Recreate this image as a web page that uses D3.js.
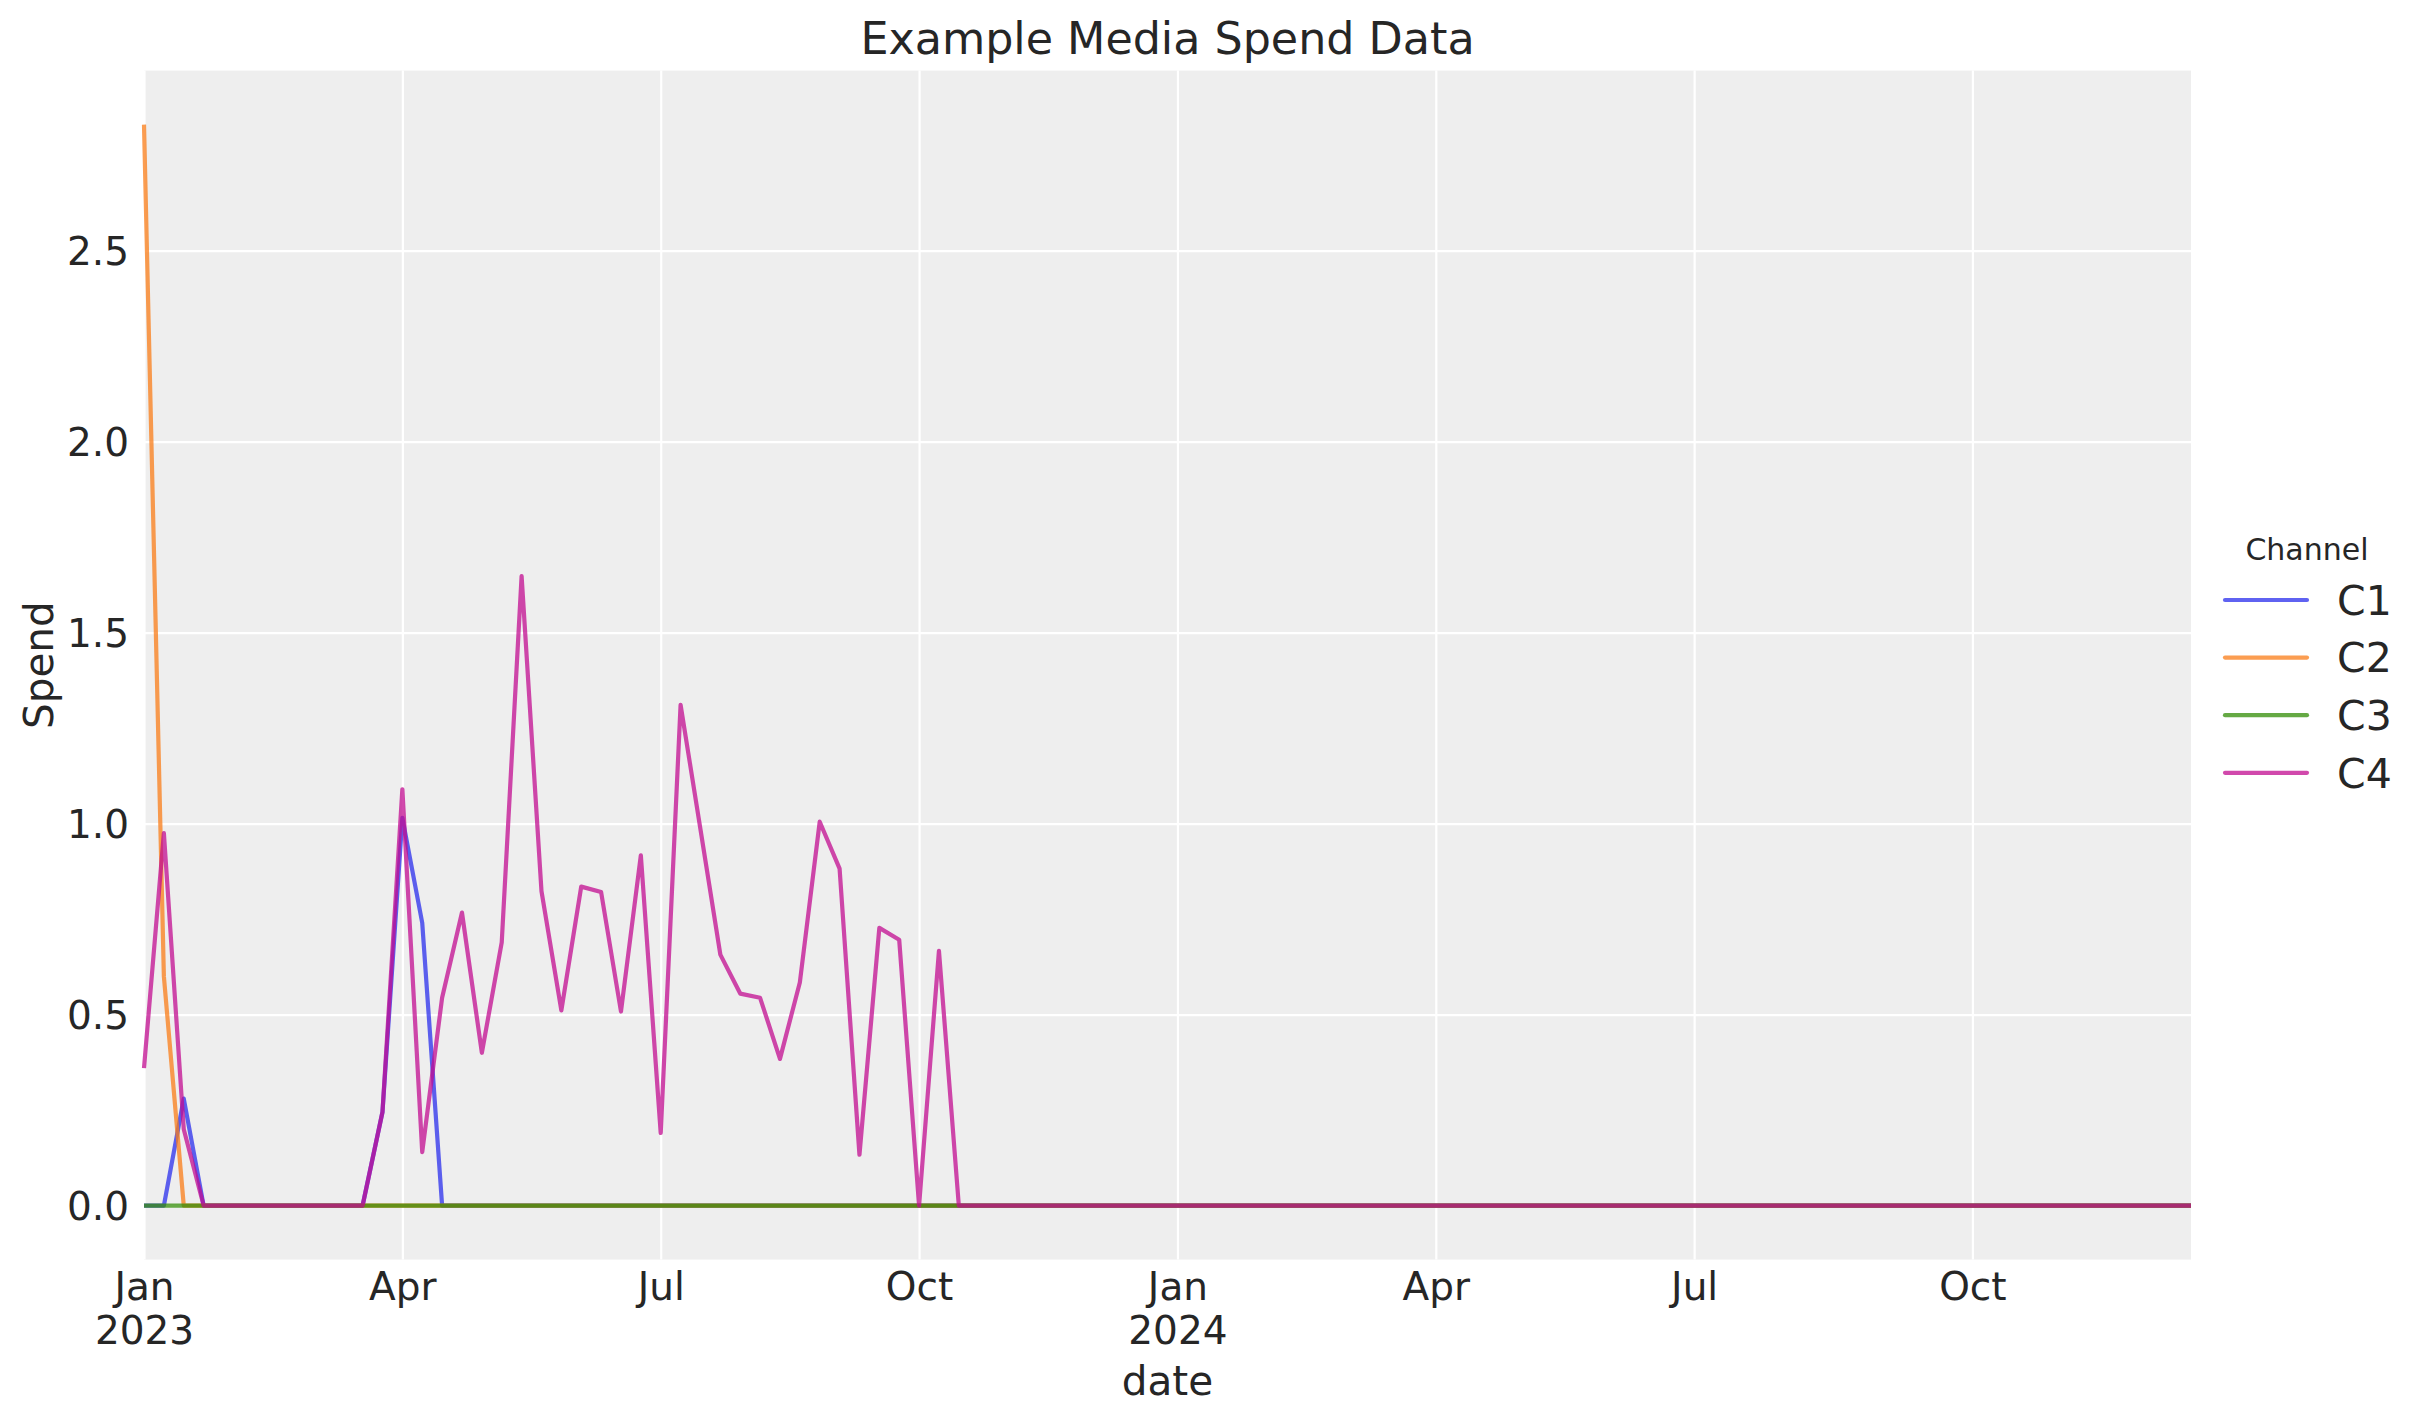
<!DOCTYPE html>
<html>
<head>
<meta charset="utf-8">
<script src="https://cdn.jsdelivr.net/npm/d3@7"></script>
<style>
  body { margin: 0; background: #ffffff; }
  text { font-family: "DejaVu Sans", sans-serif; fill: #262626; }
</style>
</head>
<body>
<script>
// weekly spend per channel, one row per quarter (13 weeks)
var channels = ["C1", "C2", "C3", "C4"];
var colors = ["#2a2eec", "#fa7c17", "#328c06", "#c10c90"];

var c1 = [
  0, 0, 0.28, 0, 0, 0, 0, 0, 0, 0, 0, 0, 0.245,
  1.015, 0.74, 0, 0, 0, 0, 0, 0, 0, 0, 0, 0, 0,
  0, 0, 0, 0, 0, 0, 0, 0, 0, 0, 0, 0, 0,
  0, 0, 0, 0, 0, 0, 0, 0, 0, 0, 0, 0, 0,
  0, 0, 0, 0, 0, 0, 0, 0, 0, 0, 0, 0, 0,
  0, 0, 0, 0, 0, 0, 0, 0, 0, 0, 0, 0, 0,
  0, 0, 0, 0, 0, 0, 0, 0, 0, 0, 0, 0, 0,
  0, 0, 0, 0, 0, 0, 0, 0, 0, 0, 0, 0, 0
];
var c2 = [
  2.83, 0.6, 0, 0, 0, 0, 0, 0, 0, 0, 0, 0, 0,
  0, 0, 0, 0, 0, 0, 0, 0, 0, 0, 0, 0, 0,
  0, 0, 0, 0, 0, 0, 0, 0, 0, 0, 0, 0, 0,
  0, 0, 0, 0, 0, 0, 0, 0, 0, 0, 0, 0, 0,
  0, 0, 0, 0, 0, 0, 0, 0, 0, 0, 0, 0, 0,
  0, 0, 0, 0, 0, 0, 0, 0, 0, 0, 0, 0, 0,
  0, 0, 0, 0, 0, 0, 0, 0, 0, 0, 0, 0, 0,
  0, 0, 0, 0, 0, 0, 0, 0, 0, 0, 0, 0, 0
];
var c3 = [
  0, 0, 0, 0, 0, 0, 0, 0, 0, 0, 0, 0, 0,
  0, 0, 0, 0, 0, 0, 0, 0, 0, 0, 0, 0, 0,
  0, 0, 0, 0, 0, 0, 0, 0, 0, 0, 0, 0, 0,
  0, 0, 0, 0, 0, 0, 0, 0, 0, 0, 0, 0, 0,
  0, 0, 0, 0, 0, 0, 0, 0, 0, 0, 0, 0, 0,
  0, 0, 0, 0, 0, 0, 0, 0, 0, 0, 0, 0, 0,
  0, 0, 0, 0, 0, 0, 0, 0, 0, 0, 0, 0, 0,
  0, 0, 0, 0, 0, 0, 0, 0, 0, 0, 0, 0, 0
];
var c4 = [
  0.36, 0.975, 0.2, 0, 0, 0, 0, 0, 0, 0, 0, 0, 0.245,
  1.09, 0.14, 0.544, 0.767, 0.40, 0.689, 1.648, 0.823, 0.511, 0.835, 0.821, 0.508, 0.917,
  0.19, 1.311, 0.985, 0.657, 0.555, 0.544, 0.384, 0.584, 1.005, 0.882, 0.133, 0.727, 0.696,
  0, 0.667, 0, 0, 0, 0, 0, 0, 0, 0, 0, 0, 0,
  0, 0, 0, 0, 0, 0, 0, 0, 0, 0, 0, 0, 0,
  0, 0, 0, 0, 0, 0, 0, 0, 0, 0, 0, 0, 0,
  0, 0, 0, 0, 0, 0, 0, 0, 0, 0, 0, 0, 0,
  0, 0, 0, 0, 0, 0, 0, 0, 0, 0, 0, 0, 0
];
var seriesValues = [c1, c2, c3, c4];

// weekly index (Mondays), 2023-01-02 .. 2024-12-23
var dates = d3.utcMonday.range(new Date(Date.UTC(2023, 0, 2)), new Date(Date.UTC(2024, 11, 24)));

// quarter ticks, shown on the week that contains the 1st of the month
var tickMonths = ["2023-01-01", "2023-04-01", "2023-07-01", "2023-10-01",
                  "2024-01-01", "2024-04-01", "2024-07-01", "2024-10-01"];
var tickLabels = ["Jan\n2023", "Apr", "Jul", "Oct", "Jan\n2024", "Apr", "Jul", "Oct"];
var yTicks = [0, 0.5, 1.0, 1.5, 2.0, 2.5];

var w = 2423, h = 1423;
var margin = {left: 144, right: 232, top: 70.6, bottom: 163.4};

var svg = d3.select("body").append("svg")
  .attr("width", w)
  .attr("height", h);

var xScale = d3.scaleUtc()
  .domain([dates[0], dates[dates.length - 1]])
  .range([margin.left, w - margin.right]);

var ymax = d3.max(seriesValues, function(s) { return d3.max(s); });
var ypad = ymax * 0.05;
var yScale = d3.scaleLinear()
  .domain([-ypad, ymax + ypad])
  .range([h - margin.bottom, margin.top]);

var tickDates = tickMonths.map(function(s) { return d3.utcMonday.ceil(new Date(s + "T00:00:00Z")); });

// background
svg.append("rect")
  .attr("x", margin.left)
  .attr("y", margin.top)
  .attr("width", w - margin.left - margin.right)
  .attr("height", h - margin.top - margin.bottom)
  .attr("fill", "#eeeeee");

// grid
svg.append("g")
  .attr("class", "grid")
  .attr("transform", "translate(0," + (h - margin.bottom) + ")")
  .call(d3.axisBottom(xScale).tickValues(tickDates).tickSize(-(h - margin.top - margin.bottom)).tickFormat(""))
  .call(function(g) { g.select(".domain").remove(); })
  .selectAll("line").attr("stroke", "#ffffff").attr("stroke-width", 2.2);

svg.append("g")
  .attr("class", "grid")
  .attr("transform", "translate(" + margin.left + ",0)")
  .call(d3.axisLeft(yScale).tickValues(yTicks).tickSize(-(w - margin.left - margin.right)).tickFormat(""))
  .call(function(g) { g.select(".domain").remove(); })
  .selectAll("line").attr("stroke", "#ffffff").attr("stroke-width", 2.2);

// lines
var line = d3.line()
  .x(function(d, i) { return xScale(dates[i]); })
  .y(function(d) { return yScale(d); });

svg.append("g")
  .selectAll("path")
  .data(seriesValues)
  .enter()
  .append("path")
  .attr("d", line)
  .attr("fill", "none")
  .attr("stroke", function(d, i) { return colors[i]; })
  .attr("stroke-opacity", 0.75)
  .attr("stroke-width", 4.2)
  .attr("stroke-linejoin", "round");

// x axis
var xAxis = svg.append("g")
  .attr("transform", "translate(0," + (h - margin.bottom) + ")")
  .call(d3.axisBottom(xScale).tickValues(tickDates).tickSize(0).tickFormat(""));
xAxis.select(".domain").remove();
xAxis.selectAll(".tick").each(function(d, i) {
  var t = d3.select(this).select("text")
    .attr("y", 0).attr("dy", null)
    .attr("font-size", "39px")
    .attr("text-anchor", "middle");
  tickLabels[i].split("\n").forEach(function(part, k) {
    t.append("tspan").attr("x", 0).attr("y", 40.5 + k * 44.3).text(part);
  });
});

// y axis
var yAxis = svg.append("g")
  .attr("transform", "translate(" + margin.left + ",0)")
  .call(d3.axisLeft(yScale).tickValues(yTicks).tickSize(0).tickPadding(15).tickFormat(d3.format(".1f")));
yAxis.select(".domain").remove();
yAxis.selectAll("text").attr("font-size", "39px").attr("dy", "0.36em");

// labels
var cx = (margin.left + w - margin.right) / 2;
svg.append("text")
  .attr("x", cx).attr("y", 54)
  .attr("text-anchor", "middle")
  .attr("font-size", "44.4px")
  .text("Example Media Spend Data");

svg.append("text")
  .attr("x", cx).attr("y", 1395)
  .attr("text-anchor", "middle")
  .attr("font-size", "40.5px")
  .text("date");

svg.append("text")
  .attr("transform", "translate(53," + ((margin.top + h - margin.bottom) / 2) + ") rotate(-90)")
  .attr("text-anchor", "middle")
  .attr("font-size", "40.5px")
  .text("Spend");

// legend
var legend = svg.append("g");
legend.append("text")
  .attr("x", 2307).attr("y", 560)
  .attr("text-anchor", "middle")
  .attr("font-size", "30px")
  .text("Channel");

var items = legend.selectAll("g.item")
  .data(channels)
  .enter()
  .append("g")
  .attr("class", "item")
  .attr("transform", function(d, i) { return "translate(0," + (600 + i * 57.6) + ")"; });
items.append("line")
  .attr("x1", 2225).attr("x2", 2307)
  .attr("stroke", function(d, i) { return colors[i]; })
  .attr("stroke-opacity", 0.75)
  .attr("stroke-width", 4.2)
  .attr("stroke-linecap", "round");
items.append("text")
  .attr("x", 2337).attr("y", 0).attr("dy", "0.36em")
  .attr("font-size", "41px")
  .text(function(d) { return d; });
</script>
</body>
</html>
